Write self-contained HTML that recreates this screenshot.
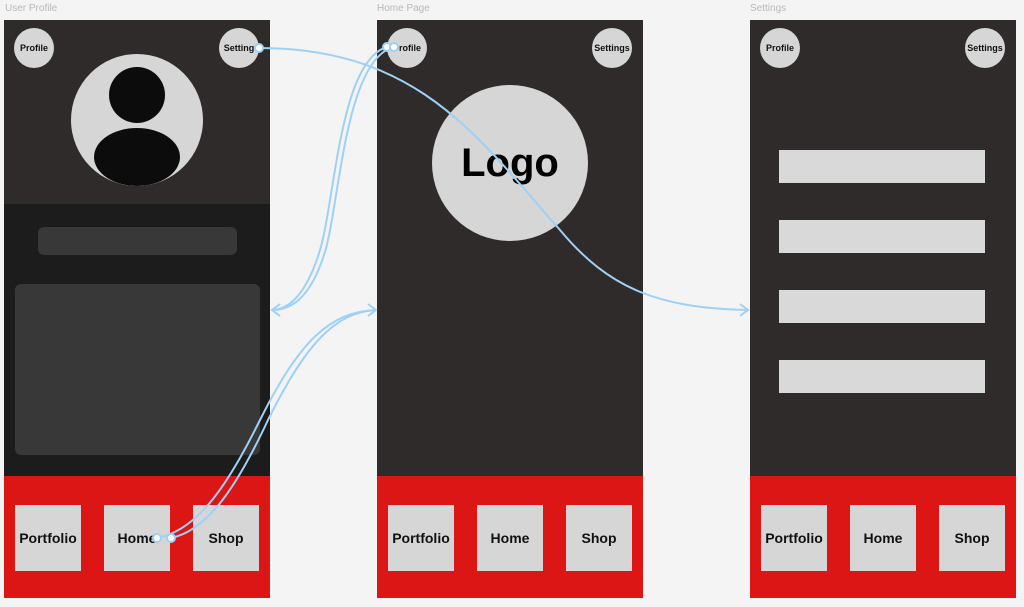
<!DOCTYPE html><html><head><style>
body{margin:0;width:1024px;height:607px;background:#f4f4f4;font-family:"Liberation Sans",sans-serif;position:relative;overflow:hidden}
.a{position:absolute}
.lbl{font-size:10px;color:#b8b8b8}
.fr{top:20px;width:266px;height:578px;background:#2f2b2a}
.red{left:0;top:456px;width:266px;height:122px;background:#dc1515}
.btn{top:29px;width:66px;height:66px;background:#d6d6d6;display:flex;align-items:center;justify-content:center;font-weight:bold;font-size:14px;color:#111}
.c{width:40px;height:40px;border-radius:50%;background:#d6d6d6;top:8px;display:flex;align-items:center;justify-content:center;font-weight:bold;font-size:9px;color:#111}
.bar{left:29px;width:206px;height:33px;background:#d9d9d9}
</style></head><body>
<div class="a lbl" style="left:5px;top:3px">User Profile</div>
<div class="a lbl" style="left:377px;top:3px">Home Page</div>
<div class="a lbl" style="left:750px;top:3px">Settings</div>

<div class="a fr" style="left:4px">
 <div class="a" style="left:0;top:184px;width:266px;height:272px;background:#1c1c1c"></div>
 <div class="a" style="left:34px;top:207px;width:199px;height:28px;border-radius:6px;background:#383838"></div>
 <div class="a" style="left:11px;top:264px;width:245px;height:171px;border-radius:6px;background:#383838"></div>
 <div class="a" style="left:67px;top:34px;width:132px;height:132px;border-radius:50%;background:#d6d6d6;overflow:hidden">
  <div class="a" style="left:38px;top:13px;width:56px;height:56px;border-radius:50%;background:#0c0c0c"></div>
  <div class="a" style="left:23px;top:74px;width:86px;height:58px;border-radius:50%;background:#0c0c0c"></div>
 </div>
 <div class="a c" style="left:10px">Profile</div>
 <div class="a c" style="left:215px">Setting</div>
 <div class="a red">
  <div class="a btn" style="left:11px">Portfolio</div>
  <div class="a btn" style="left:100px">Home</div>
  <div class="a btn" style="left:189px">Shop</div>
 </div>
</div>

<div class="a fr" style="left:377px">
 <div class="a c" style="left:10px">Profile</div>
 <div class="a c" style="left:215px">Settings</div>
 <div class="a" style="left:55px;top:65px;width:156px;height:156px;border-radius:50%;background:#d6d6d6;display:flex;align-items:center;justify-content:center;font-weight:bold;font-size:40px;color:#000">Logo</div>
 <div class="a red">
  <div class="a btn" style="left:11px">Portfolio</div>
  <div class="a btn" style="left:100px">Home</div>
  <div class="a btn" style="left:189px">Shop</div>
 </div>
</div>

<div class="a fr" style="left:750px">
 <div class="a c" style="left:10px">Profile</div>
 <div class="a c" style="left:215px">Settings</div>
 <div class="a bar" style="top:130px"></div>
 <div class="a bar" style="top:200px"></div>
 <div class="a bar" style="top:270px"></div>
 <div class="a bar" style="top:340px"></div>
 <div class="a red">
  <div class="a btn" style="left:11px">Portfolio</div>
  <div class="a btn" style="left:100px">Home</div>
  <div class="a btn" style="left:189px">Shop</div>
 </div>
</div>

<svg class="a" style="left:0;top:0" width="1024" height="607">
<g fill="none" stroke="#9fd0f5" stroke-width="2">
 <path d="M259 48 C420 48 480 140 560 230 C610 290 660 308 748 310"/>
 <path d="M740 304 L748 310 L740 316"/>
 <path d="M387 47 C340 60 335 200 320 250 C305 300 285 310 272 310"/>
 <path d="M393 47 C345 62 340 200 325 252 C310 300 290 310 272 310"/>
 <path d="M280 304 L272 310 L280 316"/>
 <path d="M157 538 C200 530 230 480 260 420 C300 340 330 312 376 310"/>
 <path d="M171 538 C210 530 240 480 268 420 C305 345 335 312 376 310"/>
 <path d="M368 304 L376 310 L368 316"/>
</g>
<g fill="#fff" stroke="#9fd0f5" stroke-width="2">
 <circle cx="259" cy="48" r="4"/><circle cx="387" cy="47" r="4"/><circle cx="394" cy="47" r="4"/>
 <circle cx="157" cy="538" r="4"/><circle cx="171" cy="538" r="4"/>
</g>
</svg>
</body></html>
